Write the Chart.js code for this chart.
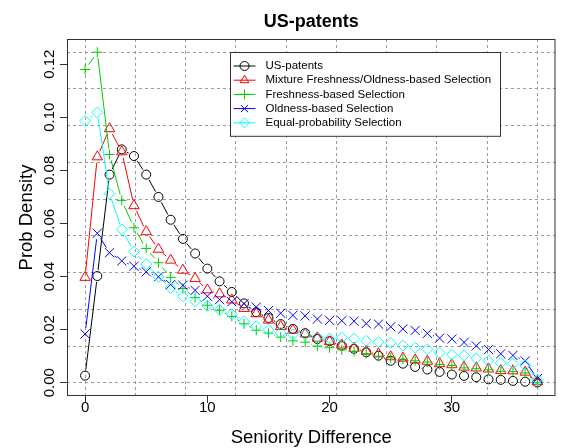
<!DOCTYPE html>
<html>
<head>
<meta charset="utf-8">
<title>US-patents</title>
<script src="https://cdn.jsdelivr.net/npm/chart.js"></script>
<style>
  html, body { margin: 0; padding: 0; background: #ffffff; }
  canvas { display: block; }
</style>
</head>
<body>
<canvas id="chart" width="563" height="448"></canvas>
<script>
// Seniority difference (x) and the probability density of each selection model
const seniority = [0, 1, 2, 3, 4, 5, 6, 7, 8, 9, 10, 11, 12, 13, 14, 15, 16, 17, 18, 19,
                   20, 21, 22, 23, 24, 25, 26, 27, 28, 29, 30, 31, 32, 33, 34, 35, 36, 37];

const usPatents = [0.0027, 0.0402, 0.0784, 0.0879, 0.0854, 0.0784, 0.0700, 0.0614, 0.0542, 0.0487,
                   0.0430, 0.0382, 0.0342, 0.0299, 0.0266, 0.0244, 0.0221, 0.0203, 0.0187, 0.0165,
                   0.0157, 0.0140, 0.0128, 0.0115, 0.0102, 0.0083, 0.0072, 0.0060, 0.0050, 0.0041,
                   0.0031, 0.0026, 0.0021, 0.0013, 0.0011, 0.0007, 0.0004, 0.0001];

const mixtureSel = [0.0397, 0.0851, 0.0957, 0.0870, 0.0667, 0.0569, 0.0503, 0.0462, 0.0424, 0.0393,
                    0.0350, 0.0335, 0.0312, 0.0280, 0.0260, 0.0236, 0.0212, 0.0198, 0.0184, 0.0168,
                    0.0155, 0.0142, 0.0130, 0.0119, 0.0109, 0.0098, 0.0093, 0.0086, 0.0081, 0.0072,
                    0.0068, 0.0059, 0.0056, 0.0052, 0.0046, 0.0045, 0.0040, 0.0004];

const freshnessSel = [0.1180, 0.1245, 0.0860, 0.0687, 0.0584, 0.0506, 0.0452, 0.0397, 0.0355, 0.0321,
                      0.0292, 0.0273, 0.0250, 0.0222, 0.0198, 0.0187, 0.0172, 0.0158, 0.0153, 0.0138,
                      0.0132, 0.0124, 0.0118, 0.0110, 0.0100, 0.0094, 0.0089, 0.0083, 0.0078, 0.0069,
                      0.0065, 0.0056, 0.0053, 0.0049, 0.0043, 0.0042, 0.0037, 0.0000];

const oldnessSel = [0.0184, 0.0563, 0.0490, 0.0459, 0.0439, 0.0418, 0.0399, 0.0370, 0.0367, 0.0348,
                    0.0326, 0.0313, 0.0305, 0.0298, 0.0285, 0.0272, 0.0262, 0.0254, 0.0252, 0.0240,
                    0.0235, 0.0234, 0.0232, 0.0223, 0.0221, 0.0211, 0.0203, 0.0197, 0.0186, 0.0168,
                    0.0165, 0.0152, 0.0139, 0.0125, 0.0109, 0.0103, 0.0082, 0.0016];

const equalProbSel = [0.0986, 0.1018, 0.0712, 0.0578, 0.0494, 0.0447, 0.0399, 0.0357, 0.0326, 0.0307,
                      0.0290, 0.0275, 0.0258, 0.0232, 0.0213, 0.0200, 0.0188, 0.0182, 0.0180, 0.0172,
                      0.0167, 0.0170, 0.0166, 0.0158, 0.0153, 0.0150, 0.0140, 0.0132, 0.0126, 0.0113,
                      0.0106, 0.0103, 0.0092, 0.0083, 0.0075, 0.0072, 0.0066, 0.0012];

const seriesNames = [
  'US-patents',
  'Mixture Freshness/Oldness-based Selection',
  'Freshness-based Selection',
  'Oldness-based Selection',
  'Equal-probability Selection'
];

const xTickValues = [0, 10, 20, 30];
const yTickValues = [0.00, 0.02, 0.04, 0.06, 0.08, 0.10, 0.12];

// ---- styling ----
const FONT = '"Liberation Sans", Arial, Helvetica, sans-serif';
const seriesColors = ['#000000', '#ff0000', '#00cd00', '#0000ff', '#00ffff'];
const markerStyles = ['circle', 'triangle', 'cross', 'crossRot', 'rectRot'];
const markerSizes = [4.5, 6, 5, 6.5, 5.5];
const axisColor = '#333333';
const gridColor = '#9a9a9a';
const LINE_GAP = 6; // lines stop short of each marker ("both" style)

// Axis limits: data range widened by 4% on each side; grid splits the data range in 9 parts
const seriesValues = [usPatents, mixtureSel, freshnessSel, oldnessSel, equalProbSel];
const allY = [].concat(...seriesValues);
const xLo = Math.min(...seniority), xHi = Math.max(...seniority);
const yLo = Math.min(...allY), yHi = Math.max(...allY);
const xPad = (xHi - xLo) * 0.04, yPad = (yHi - yLo) * 0.04;
const xGridValues = Array.from({ length: 10 }, (_, k) => xLo + (xHi - xLo) * k / 9);
const yGridValues = Array.from({ length: 10 }, (_, k) => yLo + (yHi - yLo) * k / 9);

function gapDash(ctx) {
  const len = Math.hypot(ctx.p1.x - ctx.p0.x, ctx.p1.y - ctx.p0.y);
  if (len <= 2 * LINE_GAP + 0.5) return [0, len + 20];
  return [0, LINE_GAP, len - 2 * LINE_GAP, LINE_GAP + 20];
}

const datasets = seriesValues.map((vals, i) => ({
  label: seriesNames[i],
  data: seniority.map((s, j) => ({ x: s, y: vals[j] })),
  borderColor: seriesColors[i],
  backgroundColor: seriesColors[i],
  borderWidth: 1,
  pointStyle: markerStyles[i],
  pointRadius: markerSizes[i],
  pointHoverRadius: markerSizes[i],
  pointBorderColor: seriesColors[i],
  pointBackgroundColor: 'rgba(0,0,0,0)',
  pointBorderWidth: 1,
  tension: 0,
  fill: false,
  order: seriesValues.length - i,
  segment: { borderDash: gapDash }
}));

// Frame around the plotting region
const frame = {
  id: 'frame',
  afterDatasetsDraw(chart) {
    const { ctx, chartArea: a } = chart;
    ctx.save();
    ctx.strokeStyle = axisColor;
    ctx.lineWidth = 1;
    ctx.strokeRect(a.left + 0.5, a.top + 0.5, a.right - a.left - 1, a.bottom - a.top - 1);
    ctx.restore();
  }
};

// Boxed legend in the upper right part of the plot
const boxLegend = {
  id: 'boxLegend',
  afterDraw(chart) {
    const ctx = chart.ctx;
    const left = 230.5, top = 52.5, rowH = 14.2, firstRow = 13.5;
    const font = '11.5px ' + FONT;
    ctx.save();
    ctx.font = font;
    const textX = left + 35;
    const widest = Math.max(...chart.data.datasets.map(d => ctx.measureText(d.label).width));
    const right = Math.round(textX + widest + 9) + 0.5;
    const bottom = top + firstRow * 2 + rowH * (chart.data.datasets.length - 1);
    ctx.fillStyle = '#ffffff';
    ctx.fillRect(left, top, right - left, bottom - top);
    ctx.strokeStyle = axisColor;
    ctx.lineWidth = 1;
    ctx.strokeRect(left, top, right - left, bottom - top);
    chart.data.datasets.forEach((d, i) => {
      const y = top + firstRow + i * rowH;
      ctx.strokeStyle = d.borderColor;
      ctx.lineWidth = 1;
      ctx.setLineDash([]);
      ctx.beginPath();
      ctx.moveTo(left + 3, y);
      ctx.lineTo(left + 25, y);
      ctx.stroke();
      ctx.fillStyle = 'rgba(0,0,0,0)';
      Chart.helpers.drawPoint(ctx, {
        pointStyle: d.pointStyle, radius: Math.min(d.pointRadius, 5), rotation: 0, borderWidth: 1
      }, left + 14, y);
      ctx.fillStyle = '#000000';
      ctx.textAlign = 'left';
      ctx.textBaseline = 'middle';
      ctx.font = font;
      ctx.fillText(d.label, textX, y);
    });
    ctx.restore();
  }
};

new Chart(document.getElementById('chart'), {
  type: 'line',
  data: { datasets },
  plugins: [frame, boxLegend],
  options: {
    responsive: false,
    animation: false,
    devicePixelRatio: 1,
    layout: { padding: { left: 0, right: 1, top: 0, bottom: 0 } },
    plugins: {
      legend: { display: false },
      tooltip: { enabled: false },
      title: {
        display: true,
        text: 'US-patents',
        fullSize: false,
        color: '#000000',
        font: { family: FONT, size: 18, weight: 'bold', lineHeight: 1.2 },
        padding: { top: 11.5, bottom: 5.9 }
      }
    },
    scales: {
      x: {
        type: 'linear',
        position: 'bottom',
        min: xLo - xPad,
        max: xHi + xPad,
        afterBuildTicks: s => { s.ticks = xTickValues.map(v => ({ value: v })); },
        afterFit: s => { s.height = 52; },
        grid: { drawOnChartArea: false, drawTicks: true, tickLength: 7, tickColor: axisColor, tickWidth: 1 },
        border: { display: false },
        ticks: {
          color: '#000000', padding: -4, maxRotation: 0, autoSkip: false,
          font: { family: FONT, size: 15, lineHeight: 1.2 },
          callback: v => String(v)
        },
        title: {
          display: true, text: 'Seniority Difference', color: '#000000',
          font: { family: FONT, size: 18.5, lineHeight: 1 },
          padding: { top: 0, bottom: 0.5 }
        }
      },
      xGrid: {
        type: 'linear',
        position: 'bottom',
        min: xLo - xPad,
        max: xHi + xPad,
        afterBuildTicks: s => { s.ticks = xGridValues.map(v => ({ value: v })); },
        ticks: { display: false },
        grid: { drawTicks: false, color: gridColor, lineWidth: 1 },
        border: { display: false, dash: [3, 3] }
      },
      y: {
        type: 'linear',
        position: 'left',
        min: yLo - yPad,
        max: yHi + yPad,
        afterBuildTicks: s => { s.ticks = yTickValues.map(v => ({ value: v })); },
        afterFit: s => { s.width = 67; },
        grid: { drawOnChartArea: false, drawTicks: true, tickLength: 7, tickColor: axisColor, tickWidth: 1 },
        border: { display: false },
        ticks: {
          color: '#000000', padding: -4.3, minRotation: 90, maxRotation: 90,
          crossAlign: 'center', autoSkip: false,
          font: { family: FONT, size: 15, lineHeight: 1.2 },
          callback: v => v.toFixed(2)
        },
        title: {
          display: true, text: 'Prob Density', color: '#000000',
          font: { family: FONT, size: 18.5, lineHeight: 1 },
          padding: { top: 18, bottom: 0 }
        }
      },
      yGrid: {
        type: 'linear',
        position: 'left',
        min: yLo - yPad,
        max: yHi + yPad,
        afterBuildTicks: s => { s.ticks = yGridValues.map(v => ({ value: v })); },
        ticks: { display: false },
        grid: { drawTicks: false, color: gridColor, lineWidth: 1 },
        border: { display: false, dash: [3, 3] }
      }
    }
  }
});
</script>
</body>
</html>
